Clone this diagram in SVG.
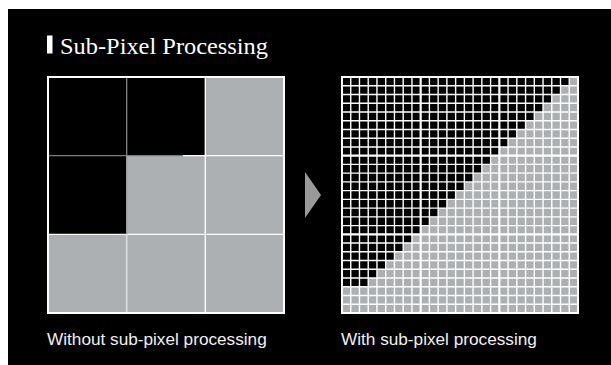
<svg xmlns="http://www.w3.org/2000/svg" width="611" height="365" viewBox="0 0 611 365">
<style>
.title{font-family:"Liberation Serif","Times New Roman",serif;font-size:24px;fill:#ffffff}
.label{font-family:"Liberation Sans",Arial,sans-serif;font-size:17.2px;fill:#f0f0f0}
.gray{fill:#adb0b3}
.minor{stroke:#ffffff;stroke-width:1.4;fill:none}
.major{stroke:#ffffff;stroke-width:2.2;fill:none}
.border{stroke:#ffffff;stroke-width:2;fill:none}
</style>
<rect x="0" y="0" width="611" height="365" fill="#ffffff"/>
<rect x="8" y="9" width="603" height="356" fill="#000000"/>

<g id="title">
<rect x="47" y="35.5" width="5.5" height="18" fill="#ffffff"/>
<text class="title" x="60" y="54" textLength="208" lengthAdjust="spacingAndGlyphs">Sub-Pixel Processing</text>
</g>

<g id="left-grid">
<rect class="gray" x="48" y="77" width="236" height="236"/>
<rect x="48" y="77" width="157.33" height="78.67" fill="#000000"/>
<rect x="48" y="155.67" width="78.67" height="78.67" fill="#000000"/>
<path class="minor" d="M205.33 77V313M48 234.33H284M183 155.67H284"/>
<path d="M126.67 77V155.67M48 155.67H183" stroke="#7c7c7c" stroke-width="1.4" fill="none"/>
<path d="M126.67 155.67V234.33" stroke="#9a9a9a" stroke-width="1.4" fill="none"/>
<path d="M126.67 234.33V313" stroke="#dcdcdc" stroke-width="1.6" fill="none"/>
<rect class="border" x="48" y="77" width="236" height="236"/>
</g>

<g id="right-grid">
<rect class="gray" x="342" y="77" width="236" height="236"/>
<path fill="#000000" d="M342 77H569.26v8.7407h-8.7407v8.7407h-8.7407v8.7407h-8.7407v8.7407h-8.7407v8.7407h-8.7407v8.7407h-8.7407v8.7407h-8.7407v8.7407h-8.7407v8.7407h-8.7407v8.7407h-8.7407v8.7407h-8.7407v8.7407h-8.7407v8.7407h-8.7407v8.7407h-8.7407v8.7407h-8.7407v8.7407h-8.7407v8.7407h-8.7407v8.7407h-8.7407v8.7407h-8.7407v8.7407h-8.7407v8.7407h-8.7407v8.7407h-8.7407v8.7407h-8.7407v8.7407H342Z"/>
<path class="minor" d="M350.74 77V313M359.48 77V313M368.22 77V313M376.96 77V313M385.7 77V313M394.44 77V313M403.19 77V313M411.93 77V313M429.41 77V313M438.15 77V313M446.89 77V313M455.63 77V313M464.37 77V313M473.11 77V313M481.85 77V313M490.59 77V313M508.07 77V313M516.81 77V313M525.56 77V313M534.3 77V313M543.04 77V313M551.78 77V313M560.52 77V313M569.26 77V313M342 85.74H578M342 94.48H578M342 103.22H578M342 111.96H578M342 120.7H578M342 129.44H578M342 138.19H578M342 146.93H578M342 164.41H578M342 173.15H578M342 181.89H578M342 190.63H578M342 199.37H578M342 208.11H578M342 216.85H578M342 225.59H578M342 243.07H578M342 251.81H578M342 260.56H578M342 269.3H578M342 278.04H578M342 286.78H578M342 295.52H578M342 304.26H578"/>
<path class="major" d="M420.67 77V313M499.33 77V313M342 155.67H578M342 234.33H578"/>
<rect class="border" x="342" y="77" width="236" height="236"/>
</g>

<g id="connectors">
<polygon points="305,172 321,195 305,218" fill="#999999"/>
</g>

<g id="labels">
<text class="label" x="47" y="345">Without sub-pixel processing</text>
<text class="label" x="341" y="345">With sub-pixel processing</text>
</g>
</svg>
